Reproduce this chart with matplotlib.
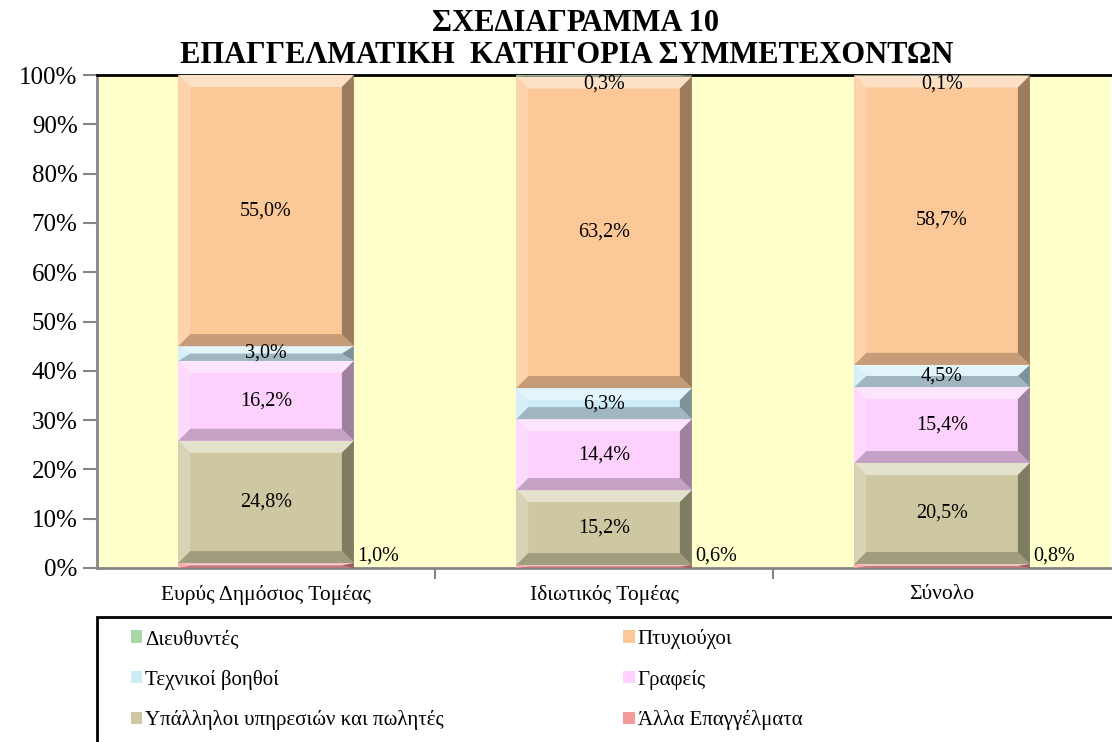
import numpy as np
import matplotlib
matplotlib.use("Agg")
import matplotlib.pyplot as plt
from matplotlib.patches import Polygon, Rectangle
from matplotlib.colors import to_rgb
from matplotlib.ticker import FuncFormatter

plt.rcParams['font.family'] = ['Liberation Serif', 'DejaVu Serif']

# data (percent), stacked bottom -> top
categories = ['Ευρύς Δημόσιος Τομέας', 'Ιδιωτικός Τομέας', 'Σύνολο']
series = ['Άλλα Επαγγέλματα', 'Υπάλληλοι υπηρεσιών και πωλητές', 'Γραφείς',
          'Τεχνικοί βοηθοί', 'Πτυχιούχοι', 'Διευθυντές']
allo = [1.0, 0.6, 0.8]
ypallhloi = [24.8, 15.2, 20.5]
grafeis = [16.2, 14.4, 15.4]
texnikoi = [3.0, 6.3, 4.5]
ptyxiouxoi = [55.0, 63.2, 58.7]
dieythyntes = [0.0, 0.3, 0.1]
values = [allo, ypallhloi, grafeis, texnikoi, ptyxiouxoi, dieythyntes]
colors = ['#F29B9B', '#CDC8A2', '#FDD0FD', '#CDEBF7', '#FCC898', '#A8D8A8']

W, H = 1112, 742
fig = plt.figure(figsize=(W / 100, H / 100), dpi=100)
ax_l, ax_r, ax_t, ax_b = 97, 1111, 75, 568
ax = fig.add_axes([ax_l / W, 1 - ax_b / H, (ax_r - ax_l) / W, (ax_b - ax_t) / H])
ax.set_facecolor('#FFFFCC')
ax.set_xlim(-0.5, 2.5)
ax.set_ylim(0, 100)

def mix(c, other, t):
    c = np.array(to_rgb(c))
    return tuple(c * (1 - t) + np.array(other) * t)

x = np.arange(len(categories))
bw = 0.52
px_x = (ax_r - ax_l) / 3.0
px_y = (ax_b - ax_t) / 100.0
bev = 12
bx, by = bev / px_x, bev / px_y

bottom = np.zeros(len(categories))
for s, (name, vals, col) in enumerate(zip(series, values, colors)):
    vals = np.array(vals)
    ax.bar(x, vals, bw, bottom=bottom, color=col, label=name, linewidth=0, zorder=2)
    for i in range(len(x)):
        h = vals[i]
        if h <= 0:
            continue
        x0, x1 = x[i] - bw / 2, x[i] + bw / 2
        y0, y1 = bottom[i], bottom[i] + h
        e = min(by, h / 2)
        ex = min(bx, bw / 2)
        polys = [
            ([(x0, y1), (x1, y1), (x1 - ex, y1 - e), (x0 + ex, y1 - e)], mix(col, (1, 1, 1), 0.45)),
            ([(x0, y0), (x1, y0), (x1 - ex, y0 + e), (x0 + ex, y0 + e)], mix(col, (0, 0, 0), 0.22)),
            ([(x0, y0), (x0 + ex, y0 + e), (x0 + ex, y1 - e), (x0, y1)], mix(col, (1, 1, 1), 0.2)),
            ([(x1, y0), (x1 - ex, y0 + e), (x1 - ex, y1 - e), (x1, y1)], mix(col, (0, 0, 0), 0.38)),
        ]
        for pts, pc in polys:
            ax.add_patch(Polygon(pts, closed=True, facecolor=pc, edgecolor='none', zorder=3))
        lab = f'{h:.1f}%'.replace('.', ',')
        if s == 0:
            ax.text(x1 + 0.01, 0.4, lab, ha='left', va='bottom', fontsize=14.5, zorder=5)
        elif s == len(series) - 1:
            # top series sits right under the top border
            ax.text(x[i], y1, lab, ha='center', va='top', fontsize=14.5, zorder=5)
        else:
            ax.text(x[i], y0 + h / 2, lab, ha='center', va='center', fontsize=14.5, zorder=5)
    bottom += vals

ax.yaxis.set_major_locator(plt.MultipleLocator(10))
ax.yaxis.set_major_formatter(FuncFormatter(lambda v, p: f'{v:.0f}%'))
ax.tick_params(axis='y', labelsize=18, length=10, width=1.5, color='#868686', pad=4)
ax.set_xticks(x)
ax.set_xticklabels(categories, fontsize=15.5)
ax.set_xticks([0.5, 1.5], minor=True)
ax.tick_params(axis='x', which='major', length=0, pad=12)
ax.tick_params(axis='x', which='minor', length=8, width=1.5, color='#868686')
for sp in ['left', 'bottom']:
    ax.spines[sp].set_color('#868686')
    ax.spines[sp].set_linewidth(2)
ax.spines['top'].set_color('black')
ax.spines['top'].set_linewidth(2)
ax.spines['right'].set_visible(False)

fig.text(576 / W, 1 - 31 / H, 'ΣΧΕΔΙΑΓΡΑΜΜΑ 10', ha='center', va='baseline',
         fontsize=22, fontweight='bold')
fig.text(567 / W, 1 - 63 / H, 'ΕΠΑΓΓΕΛΜΑΤΙΚΗ  ΚΑΤΗΓΟΡΙΑ ΣΥΜΜΕΤΕΧΟΝΤΩΝ', ha='center', va='baseline',
         fontsize=22, fontweight='bold')

# legend box running off the figure edge
fig.patches.append(Rectangle((97 / W, -0.05), 1.1, 1 - 617 / H + 0.05, transform=fig.transFigure,
                             facecolor='white', edgecolor='black', linewidth=2))
handles, labels = ax.get_legend_handles_labels()
order = [5, 3, 1, 4, 2, 0]
leg = fig.legend([handles[k] for k in order], [labels[k] for k in order], ncol=2,
                 loc='upper left', bbox_to_anchor=(112 / W, 1 - 610 / H), frameon=False,
                 fontsize=15, handlelength=0.55, handleheight=0.55, handletextpad=0.15,
                 columnspacing=8.6, labelspacing=1.0)

fig.savefig('out.png', dpi=100)
